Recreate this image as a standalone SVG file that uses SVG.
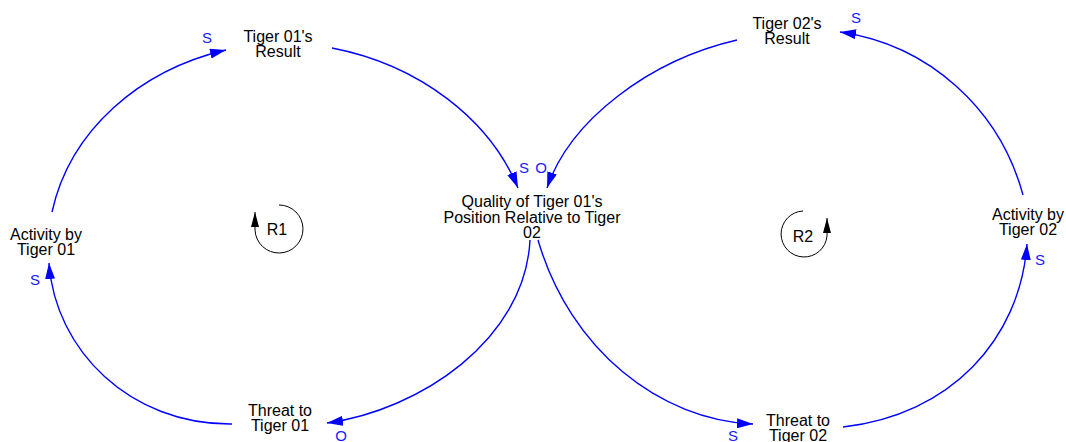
<svg xmlns="http://www.w3.org/2000/svg" width="1066" height="442" viewBox="0 0 1066 442">
<style>
.lbl{font-family:"Liberation Sans",Arial,sans-serif;font-size:16px;fill:#000;text-anchor:middle}
.pol{font-family:"Liberation Sans",Arial,sans-serif;font-size:15px;fill:#1a1aff;text-anchor:middle}
.link{fill:none;stroke:#0000ff;stroke-width:1.4;marker-end:url(#ah)}
.loop{fill:none;stroke:#000;stroke-width:1;marker-end:url(#lh)}
</style>
<defs>
<marker id="ah" markerWidth="16" markerHeight="10" refX="16" refY="5" orient="auto" markerUnits="userSpaceOnUse">
<path d="M0,0 L16,5 L0,10 Z" fill="#0000ff"/>
</marker>
<marker id="lh" markerWidth="15" markerHeight="8" refX="15" refY="4" orient="auto" markerUnits="userSpaceOnUse">
<path d="M0,0 L15,4 L0,8 Z" fill="#000"/>
</marker>
</defs>
<g id="connectors">
<path class="link" d="M52,212 C70,130 140,70 226,50"/>
<path class="link" d="M332,48 C420,65 490,120 518,188"/>
<path class="link" d="M530,240 C525,340 420,410 327,423"/>
<path class="link" d="M232,424 C130,425 55,350 49,263"/>
<path class="link" d="M538,240 C570,350 660,420 753,424"/>
<path class="link" d="M843,427 C950,415 1020,340 1027,244"/>
<path class="link" d="M1023,195 C1000,110 930,45 840,32"/>
<path class="link" d="M737,40 C650,60 570,120 547,188"/>
</g>
<g id="polarities">
<text class="pol" x="207" y="43">S</text>
<text class="pol" x="524" y="173">S</text>
<text class="pol" x="541" y="173">O</text>
<text class="pol" x="341" y="441">O</text>
<text class="pol" x="35" y="285">S</text>
<text class="pol" x="733" y="441">S</text>
<text class="pol" x="1040" y="265">S</text>
<text class="pol" x="856" y="23">S</text>
</g>
<g id="loop-R1">
<path class="loop" d="M279,205 A24,24 0 1 1 255,230 L255,212"/>
<text class="lbl" x="277" y="235">R1</text>
</g>
<g id="loop-R2">
<path class="loop" d="M803,211 A23,23 0 1 0 827,236 L827,218"/>
<text class="lbl" x="803" y="242">R2</text>
</g>
<g id="node-result01"><text class="lbl" x="278" y="42">Tiger 01's</text><text class="lbl" x="278" y="57">Result</text></g>
<g id="node-result02"><text class="lbl" x="787" y="29">Tiger 02's</text><text class="lbl" x="787" y="44">Result</text></g>
<g id="node-quality"><text class="lbl" x="532" y="207">Quality of Tiger 01's</text><text class="lbl" x="532" y="222.5">Position Relative to Tiger</text><text class="lbl" x="532" y="238">02</text></g>
<g id="node-activity01"><text class="lbl" x="46" y="240">Activity by</text><text class="lbl" x="46" y="255">Tiger 01</text></g>
<g id="node-activity02"><text class="lbl" x="1028" y="220">Activity by</text><text class="lbl" x="1028" y="235">Tiger 02</text></g>
<g id="node-threat01"><text class="lbl" x="280" y="416">Threat to</text><text class="lbl" x="280" y="431">Tiger 01</text></g>
<g id="node-threat02"><text class="lbl" x="798" y="426">Threat to</text><text class="lbl" x="798" y="441">Tiger 02</text></g>
</svg>
